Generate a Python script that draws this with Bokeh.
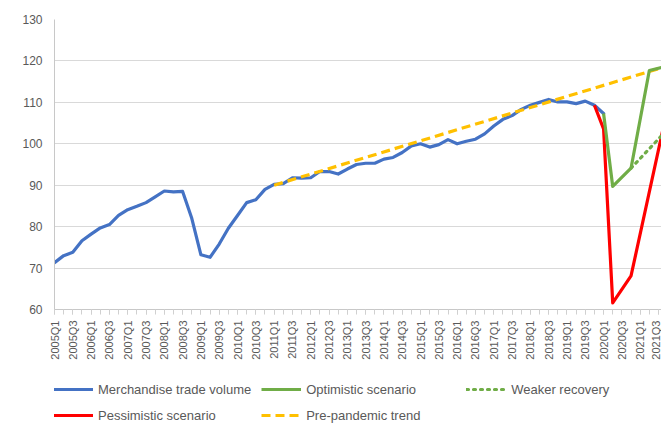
import math
from bokeh.plotting import figure
from bokeh.layouts import column
from bokeh.models import Range1d, FixedTicker, Legend, LegendItem
from bokeh.embed import file_html
from bokeh.resources import INLINE

quarters = [f"{y}Q{q}" for y in range(2005, 2022) for q in range(1, 5)]

trade_volume = [71.3, 73.0, 73.8, 76.6, 78.2, 79.7, 80.5, 82.7, 84.1, 84.9,
                85.8, 87.2, 88.6, 88.4, 88.5, 82.0, 73.2, 72.6, 75.8, 79.6,
                82.7, 85.8, 86.5, 89.0, 90.2, 90.4, 91.8, 91.7, 91.8, 93.3,
                93.3, 92.7, 93.9, 95.0, 95.3, 95.3, 96.3, 96.7, 97.9, 99.5,
                100.0, 99.2, 99.8, 101.0, 100.0, 100.6, 101.1, 102.4, 104.3, 105.9,
                106.8, 108.3, 109.3, 110.0, 110.7, 110.1, 110.1, 109.7, 110.3, 109.3,
                107.3]
trade_q = quarters[:len(trade_volume)]

optimistic_q = ["2020Q1", "2020Q2", "2020Q4", "2021Q2", "2021Q4"]
optimistic_v = [107.3, 89.7, 94.1, 117.7, 118.8]

weaker_q = ["2020Q4", "2021Q4"]
weaker_v = [94.1, 103.5]

pessimistic_q = ["2019Q4", "2020Q1", "2020Q2", "2020Q4", "2021Q4"]
pessimistic_v = [109.3, 103.6, 61.6, 68.1, 108.7]

trend_q = ["2011Q1", "2021Q4"]
trend_v = [90.0, 118.8]

y_ticks = [60, 70, 80, 90, 100, 110, 120, 130]

series_labels = ["Merchandise trade volume", "Optimistic scenario", "Weaker recovery",
                 "Pessimistic scenario", "Pre-pandemic trend"]

def idx(qs):
    return [quarters.index(q) for q in qs]

FONT = "Liberation Sans"
TXT = "#595959"
BLUE, GREEN, RED, GOLD = "#4472C4", "#70AD47", "#FF0000", "#FFC000"
LW = 3.2

p = figure(width=661, height=365, output_backend="svg", toolbar_location=None,
           x_range=Range1d(0, 66.33), y_range=Range1d(60, 130),
           min_border_left=54, min_border_right=0, min_border_top=19,
           min_border_bottom=56)
p.outline_line_color = None
p.background_fill_color = "white"
p.border_fill_color = "white"

p.line(idx(trade_q), trade_volume, line_color=BLUE, line_width=LW,
       line_join="round", line_cap="round")
p.line(idx(trend_q), trend_v, line_color=GOLD, line_width=LW, line_dash="9 5")
p.line(idx(pessimistic_q), pessimistic_v, line_color=RED, line_width=LW, line_join="round")
p.line(idx(weaker_q), weaker_v, line_color=GREEN, line_width=LW,
       line_dash="2 5", line_cap="round")
p.line(idx(optimistic_q), optimistic_v, line_color=GREEN, line_width=LW, line_join="round")

# x axis
xa = p.xaxis[0]
xa.ticker = FixedTicker(ticks=list(range(0, len(quarters), 2)),
                        minor_ticks=list(range(0, len(quarters))))
xa.major_label_overrides = {i: q for i, q in enumerate(quarters)}
xa.major_label_orientation = math.pi / 2
xa.major_label_text_font = FONT
xa.major_label_text_font_size = "11px"
xa.major_label_text_color = TXT
xa.major_label_standoff = 6
xa.major_tick_in = 0
xa.major_tick_out = 5
xa.minor_tick_in = 0
xa.minor_tick_out = 5
xa.major_tick_line_color = "#D0D0D0"
xa.minor_tick_line_color = "#D0D0D0"
xa.axis_line_color = "#C8C8C8"

# y axis
ya = p.yaxis[0]
ya.ticker = FixedTicker(ticks=y_ticks)
ya.major_label_text_font = FONT
ya.major_label_text_font_size = "12px"
ya.major_label_text_color = TXT
ya.major_label_standoff = 12
ya.major_tick_in = 0
ya.major_tick_out = 0
ya.minor_tick_line_color = None
ya.axis_line_color = "#C8C8C8"

p.xgrid.grid_line_color = None
p.ygrid.grid_line_color = "#D9D9D9"
p.ygrid.ticker = FixedTicker(ticks=y_ticks)

# legend in its own strip below the chart (key lines carry no data points)
NAN2 = [math.nan, math.nan]
lg = figure(width=661, height=58, output_backend="svg", toolbar_location=None,
            x_range=Range1d(0, 1), y_range=Range1d(0, 1),
            x_axis_location=None, y_axis_location=None,
            min_border_left=54, min_border_right=0, min_border_top=0, min_border_bottom=0)
lg.outline_line_color = None
lg.xgrid.visible = False
lg.ygrid.visible = False
k_blue = lg.line(NAN2, NAN2, line_color=BLUE, line_width=LW)
k_green = lg.line(NAN2, NAN2, line_color=GREEN, line_width=LW)
k_weak = lg.line(NAN2, NAN2, line_color=GREEN, line_width=LW, line_dash="2 5", line_cap="round")
k_red = lg.line(NAN2, NAN2, line_color=RED, line_width=LW)
k_gold = lg.line(NAN2, NAN2, line_color=GOLD, line_width=LW, line_dash="9 5")

legend = Legend(items=[LegendItem(label=l, renderers=[r]) for l, r in zip(
    series_labels, [k_blue, k_green, k_weak, k_red, k_gold])],
    orientation="horizontal", ncols=3, location=(-1, 0))
legend.label_text_font = FONT
legend.label_text_font_size = "13px"
legend.label_text_color = TXT
legend.glyph_width = 40
legend.glyph_height = 16
legend.label_height = 16
legend.label_standoff = 5
legend.label_width = 150
legend.spacing = 10
legend.padding = 0
legend.margin = 0
legend.border_line_color = None
legend.background_fill_alpha = 0
lg.add_layout(legend, "center")

open("out.html", "w").write(file_html(column(p, lg, spacing=0), INLINE))
